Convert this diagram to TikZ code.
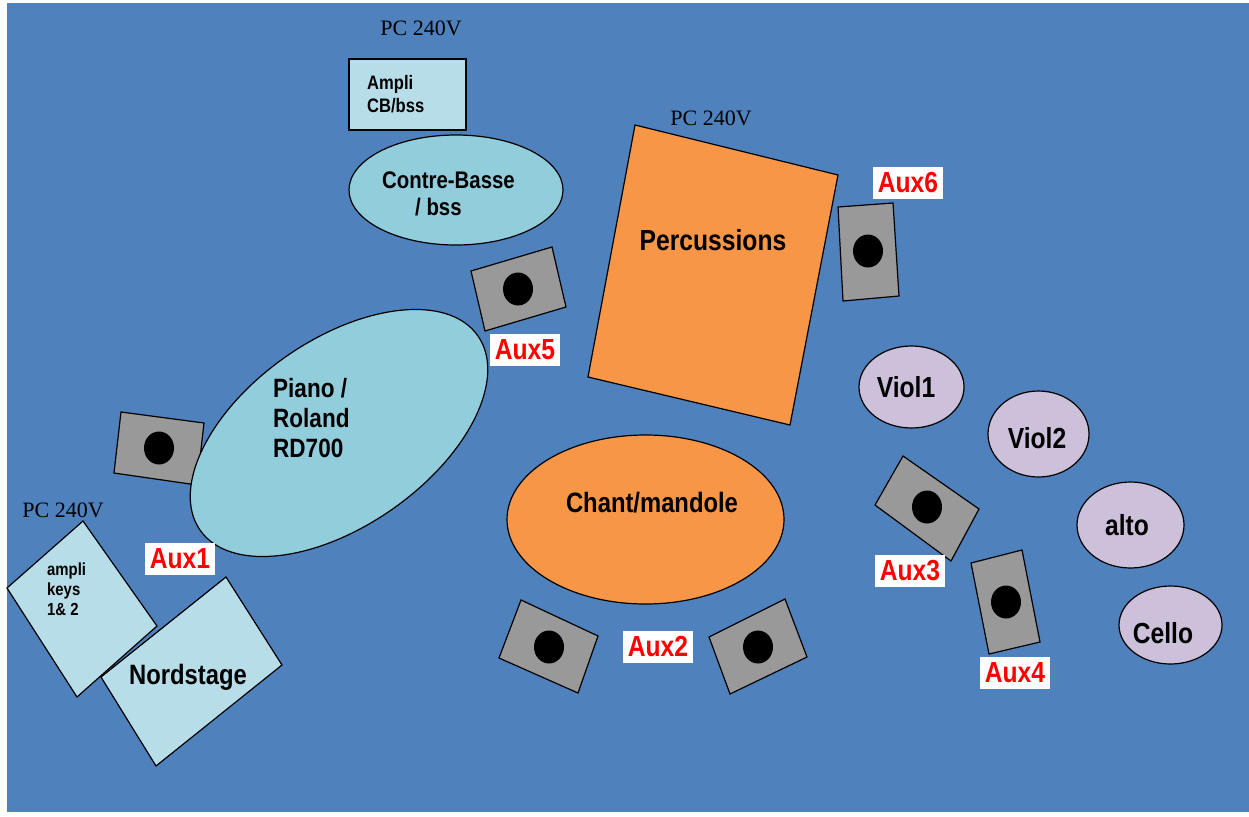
\documentclass[tikz,border=0pt]{standalone}
\usepackage{fontspec}
\setmainfont{Liberation Serif}
\newfontfamily\lbl[FakeStretch=0.85]{Liberation Sans}
\definecolor{stage}{HTML}{4F81BD}
\definecolor{boxblue}{HTML}{B7DDE8}
\definecolor{instblue}{HTML}{92CDDC}
\definecolor{instorange}{HTML}{F79646}
\definecolor{strings}{HTML}{CCC0DA}
\definecolor{spkgray}{HTML}{999999}
\begin{document}
\begin{tikzpicture}[x=1pt,y=-1pt,
  thing/.style={draw,line width=1.2pt},
  spk/.style={thing,fill=spkgray},
  lab/.style={inner sep=0pt,font=\lbl\bfseries\fontsize{#1}{1.15\dimexpr#1pt\relax}\selectfont},
  lab/.default=29,
  aux/.style={fill=white,text=red,inner xsep=5pt,inner ysep=5.5pt,font=\lbl\bfseries\fontsize{29}{34}\selectfont},
  pc/.style={font=\fontsize{22}{26}\selectfont}]

\useasboundingbox (0,0) rectangle (1249,816);
\fill[stage] (7,3) rectangle (1249,812);

\draw[thing,fill=boxblue] (349,59) rectangle (466,130);
\draw[thing,fill=instblue] (456,190) ellipse (107 and 55);
\draw[thing,fill=instorange] (635,125) -- (838,175) -- (790,425) -- (588,377) -- cycle;
\draw[thing,fill=boxblue] (83,521) -- (157,626) -- (77,697) -- (7,588) -- cycle;
\draw[thing,fill=boxblue] (101,677) -- (226,577) -- (282,665) -- (156,766) -- cycle;

\draw[spk] (121,412) -- (204,423) -- (197,485) -- (114,473) -- cycle;
\draw[spk] (471,271) -- (552,247) -- (566,307) -- (485,331) -- cycle;
\draw[spk] (838,207) -- (893,203) -- (899,296) -- (843,301) -- cycle;
\draw[spk] (903,456) -- (979,509) -- (951,561) -- (875,505) -- cycle;
\draw[spk] (971,563) -- (1022,550) -- (1040,642) -- (989,654) -- cycle;
\draw[spk] (521,600) -- (598,636) -- (578,693) -- (499,658) -- cycle;
\draw[spk] (709,637) -- (785,599) -- (807,657) -- (730,694) -- cycle;
\foreach \p in {(159,448),(518,289),(868,251),(927,507),(1006,602),(549,647),(758,647)}
  \fill \p ellipse (15 and 16.5);

\draw[thing,fill=instblue,rotate around={35:(339,433)}] (339,433) ellipse (169.5 and 93);
\draw[thing,fill=instorange] (645.5,519.5) ellipse (138.5 and 84.5);
\draw[thing,fill=strings] (911.5,387) ellipse (52.5 and 41);
\draw[thing,fill=strings] (1038.5,434) ellipse (50.5 and 43);
\draw[thing,fill=strings] (1130.5,525) ellipse (53.5 and 43);
\draw[thing,fill=strings] (1170.5,625) ellipse (51.5 and 39);

\node[pc] (pc1) at (421,28) {PC 240V};
\node[pc] (pc2) at (711,118) {PC 240V};
\node[pc] (pc3) at (63,510) {PC 240V};

\node[lab=19.5,align=left,anchor=west] (amplicb) at (367,94) {Ampli\\CB/bss};
\node[lab=24,align=left,anchor=west] (cbasse) at (382,194) {Contre-Basse\\\hspace*{33pt}/ bss};
\node[lab] (perc) at (713,240) {Percussions};
\node[lab=26.5,align=left,anchor=west] (piano) at (273,418) {Piano /\\Roland\\RD700};
\node[lab=28] (chant) at (652,503) {Chant/mandole};
\node[lab=17.5,align=left,anchor=west] (amplikeys) at (47,589) {ampli\\keys\\1\& 2};
\node[lab=28] (nord) at (188,677) {Nordstage};
\node[lab] (viol1) at (906,387) {Viol1};
\node[lab] (viol2) at (1037,438) {Viol2};
\node[lab] (alto) at (1127,525) {alto};
\node[lab] (cello) at (1163,633) {Cello};

\node[aux] (aux1) at (180,559) {Aux1};
\node[aux] (aux2) at (658,647) {Aux2};
\node[aux] (aux3) at (910,571) {Aux3};
\node[aux] (aux4) at (1015,673) {Aux4};
\node[aux] (aux5) at (525,350) {Aux5};
\node[aux] (aux6) at (908,183) {Aux6};

\end{tikzpicture}
\end{document}
